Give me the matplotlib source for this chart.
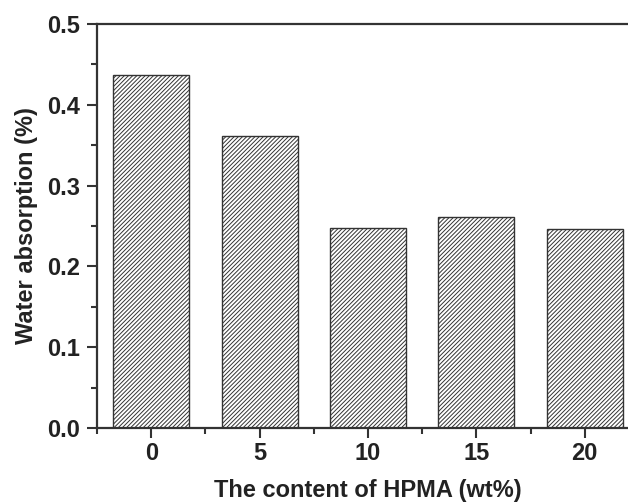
import numpy as np
import matplotlib.pyplot as plt
from matplotlib.ticker import MultipleLocator

plt.rcParams['font.family'] = ['Liberation Sans', 'DejaVu Sans']
plt.rcParams['font.weight'] = 'bold'
plt.rcParams['hatch.linewidth'] = 0.7
plt.rcParams['hatch.color'] = '#555555'

labels = ['0', '5', '10', '15', '20']
values = [0.437, 0.361, 0.247, 0.261, 0.246]

fig = plt.figure(figsize=(6.28, 5.04), dpi=100)
# right spine lies outside the picture in the reference
ax = fig.add_axes([97 / 628, (504 - 428) / 504, (639 - 97) / 628, (428 - 24) / 504])

x = np.arange(len(labels))
ax.bar(x, values, width=0.7, color='white', edgecolor='#333333', linewidth=1.0, hatch='////////')

ax.set_xlim(-0.5, 4.5)
ax.set_ylim(0, 0.5)
ax.set_xticks(x)
ax.set_xticklabels(labels)
ax.xaxis.set_minor_locator(MultipleLocator(0.5))
ax.yaxis.set_major_locator(MultipleLocator(0.1))
ax.yaxis.set_minor_locator(MultipleLocator(0.05))
ax.yaxis.set_major_formatter(plt.FormatStrFormatter('%.1f'))

for s in ax.spines.values():
    s.set_linewidth(1.6)
    s.set_color('#333333')

ax.tick_params(which='major', direction='out', length=7, width=1.5, color='#333333',
               labelsize=17, labelcolor='#222222', pad=5)
ax.tick_params(axis='x', which='major', pad=3)
ax.tick_params(which='minor', direction='out', length=4, width=1.5, color='#333333')
ax.tick_params(axis='y', which='both', right=False)
ax.tick_params(axis='x', which='both', top=False)

ax.set_xlabel('The content of HPMA (wt%)', fontsize=17, fontweight='bold', color='#222222', labelpad=10)
ax.set_ylabel('Water absorption (%)', fontsize=17, fontweight='bold', color='#222222', labelpad=7)

fig.savefig('out.png', dpi=100)
